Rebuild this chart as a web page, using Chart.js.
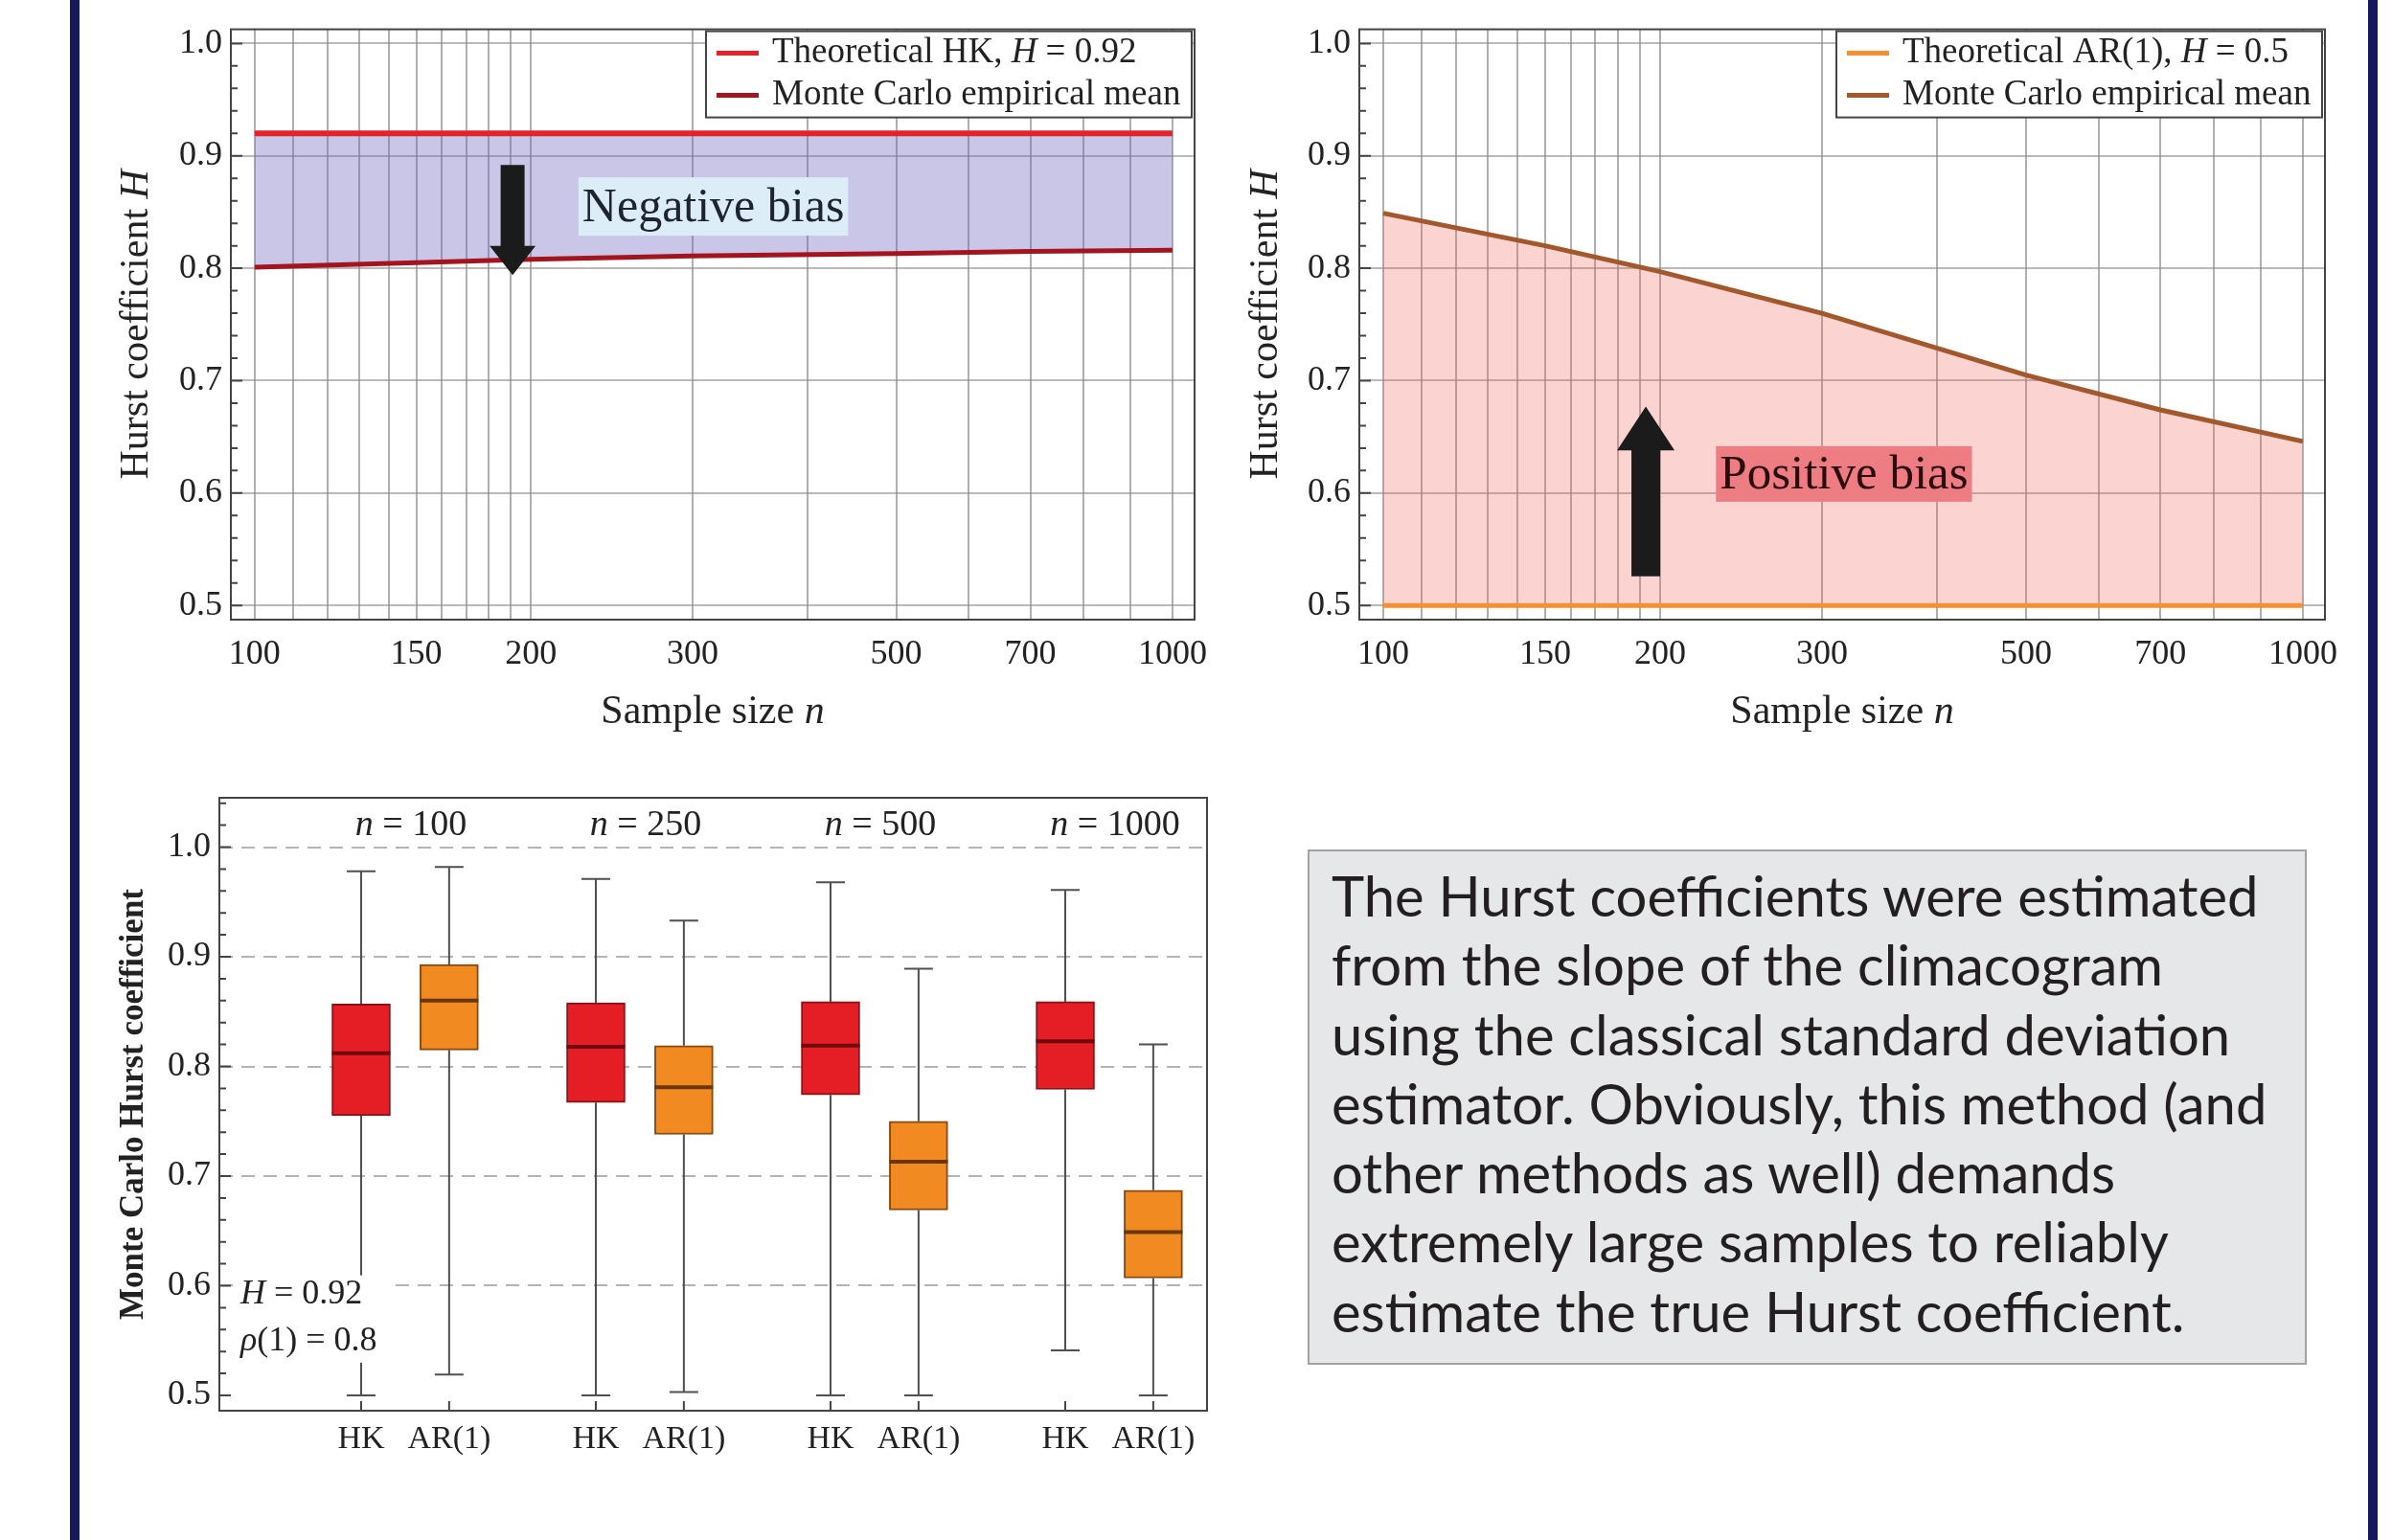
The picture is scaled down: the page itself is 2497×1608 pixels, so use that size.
<!DOCTYPE html>
<html>
<head>
<meta charset="utf-8">
<title>Hurst coefficient bias</title>
<script src="https://cdn.jsdelivr.net/npm/chart.js@4.4.0/dist/chart.umd.min.js"></script>
<style>
  html, body { margin: 0; padding: 0; background: #fff; }
  body { width: 2497px; height: 1608px; position: relative; overflow: hidden; }
  .edge { position: absolute; top: 0; height: 1608px; width: 10px; background: #151a5b; }
  canvas { position: absolute; }
  #note {
    position: absolute; left: 1365px; top: 887px; width: 1043px; height: 538px;
    box-sizing: border-box; background: #e6e7e8; border: 2px solid #a2a2a2;
    font-family: Lato, 'Noto Sans', sans-serif; font-size: 58px; line-height: 72.3px;
    color: #231f20; padding: 10px 0 0 23px; white-space: nowrap;
  }
</style>
</head>
<body>
<div class="edge" style="left:73px"></div>
<div class="edge" style="left:2472px"></div>

<canvas id="hkChart" width="1180" height="800" style="left:100px;top:0"></canvas>
<canvas id="arChart" width="1170" height="800" style="left:1290px;top:0"></canvas>
<canvas id="boxChart" width="1200" height="760" style="left:100px;top:800px"></canvas>

<div id="note">The Hurst coefficients were estimated<br>from the slope of the climacogram<br>using the classical standard deviation<br>estimator. Obviously, this method (and<br>other methods as well) demands<br>extremely large samples to reliably<br>estimate the true Hurst coefficient.</div>

<script>
Chart.defaults.font.family = "'Liberation Serif', 'Times New Roman', serif";
Chart.defaults.color = "#222";

// Sample sizes and the mean estimates
const sampleSizes = [100, 150, 200, 300, 500, 700, 1000];
const hkTheory = [0.92, 0.92, 0.92, 0.92, 0.92, 0.92, 0.92];
const hkMean = [0.801, 0.805, 0.808, 0.811, 0.813, 0.815, 0.816];
const arTheory = [0.5, 0.5, 0.5, 0.5, 0.5, 0.5, 0.5];
const arMean = [0.849, 0.820, 0.797, 0.760, 0.705, 0.674, 0.646];

const xGridValues = [100, 110, 120, 130, 140, 150, 160, 170, 180, 190, 200, 300, 400, 500, 600, 700, 800, 900, 1000];
const xTickLabels = [100, 150, 200, 300, 500, 700, 1000];
const yTickLabels = [0.5, 0.6, 0.7, 0.8, 0.9, 1.0];

// Box plots (Monte Carlo)
const groups = ["n = 100", "n = 250", "n = 500", "n = 1000"];
const seriesNames = ["HK", "AR(1)"];
const hkMin = [0.500, 0.500, 0.500, 0.541];
const hkQ1  = [0.755, 0.767, 0.774, 0.779];
const hkMed = [0.812, 0.818, 0.819, 0.823];
const hkQ3  = [0.857, 0.858, 0.859, 0.859];
const hkMax = [0.978, 0.971, 0.968, 0.961];
const arMin = [0.519, 0.503, 0.500, 0.500];
const arQ1  = [0.815, 0.738, 0.669, 0.607];
const arMed = [0.860, 0.781, 0.713, 0.649];
const arQ3  = [0.893, 0.819, 0.750, 0.687];
const arMax = [0.982, 0.933, 0.889, 0.820];

const SERIF = "'Liberation Serif', 'Times New Roman', serif";

// single letters (H, n) and a leading rho are set in italic
function richParts(text) {
    const parts = [];
    text.split(/( )/).forEach(w => {
        if (w === "") return;
        if (/^[A-Za-z]$/.test(w)) parts.push([w, true]);
        else if (w[0] === "ρ") { parts.push(["ρ", true]); parts.push([w.slice(1), false]); }
        else parts.push([w, false]);
    });
    return parts;
}

function richWidth(ctx, text, size, weight) {
    let total = 0;
    richParts(text).forEach(p => {
        ctx.font = `${p[1] ? "italic " : ""}${weight === "bold" ? "bold " : ""}${size}px ${SERIF}`;
        total += ctx.measureText(p[0]).width;
    });
    return total;
}

function drawRich(ctx, text, x, y, size, align, weight) {
    const parts = richParts(text);
    const fontFor = it => `${it ? "italic " : ""}${weight === "bold" ? "bold " : ""}${size}px ${SERIF}`;
    const total = richWidth(ctx, text, size, weight);
    let cx = align === "center" ? x - total / 2 : align === "right" ? x - total : x;
    ctx.textAlign = "left";
    ctx.textBaseline = "middle";
    parts.forEach(p => {
        ctx.font = fontFor(p[1]);
        ctx.fillText(p[0], cx, y);
        cx += ctx.measureText(p[0]).width;
    });
}

// frame, inner ticks, titles, legend and annotations
function makeDecor(cfg) {
    return {
        id: "decor",
        afterDatasetsDraw(chart) {
            const ctx = chart.ctx, xs = chart.scales.x, ys = chart.scales.y, a = chart.chartArea;
            ctx.save();
            if (cfg.whiskers) {
                cfg.whiskers.forEach((st, i) => {
                    const meta = chart.getDatasetMeta(i);
                    meta.data.forEach((bar, j) => {
                        const x = bar.x, w = bar.width;
                        const d = chart.data.datasets[i].data[j];
                        const yMax = ys.getPixelForValue(st.max[j]);
                        const yMin = ys.getPixelForValue(st.min[j]);
                        const yQ3 = ys.getPixelForValue(d.y[1]);
                        const yQ1 = ys.getPixelForValue(d.y[0]);
                        ctx.strokeStyle = "#505050";
                        ctx.lineWidth = 2;
                        ctx.beginPath();
                        ctx.moveTo(x, yMax); ctx.lineTo(x, yQ3);
                        ctx.moveTo(x, yQ1); ctx.lineTo(x, yMin);
                        ctx.moveTo(x - 15, yMax); ctx.lineTo(x + 15, yMax);
                        ctx.moveTo(x - 15, yMin); ctx.lineTo(x + 15, yMin);
                        ctx.stroke();
                        const yMed = ys.getPixelForValue(st.med[j]);
                        ctx.strokeStyle = st.medColor;
                        ctx.lineWidth = 4;
                        ctx.beginPath();
                        ctx.moveTo(x - w / 2, yMed); ctx.lineTo(x + w / 2, yMed);
                        ctx.stroke();
                    });
                });
            }
            // parameter notes sit on a white patch that breaks the grid and whisker
            if (cfg.notes) {
                let maxW = 0;
                cfg.notes.forEach(n => { maxW = Math.max(maxW, richWidth(ctx, n.text, 36)); });
                const yTop = ys.getPixelForValue(cfg.notes[0].y) - 20;
                const yBot = ys.getPixelForValue(cfg.notes[cfg.notes.length - 1].y) + 22;
                ctx.fillStyle = "#fff";
                ctx.fillRect(a.left + 14, yTop, maxW + 22, yBot - yTop);
                ctx.fillStyle = "#222";
                cfg.notes.forEach(n => drawRich(ctx, n.text, a.left + 22, ys.getPixelForValue(n.y), 36, "left"));
            }
            if (cfg.arrow) {
                const r = cfg.arrow;
                const cx = xs.getPixelForValue(r.n);
                const y0 = ys.getPixelForValue(r.from), yh = ys.getPixelForValue(r.head), y1 = ys.getPixelForValue(r.to);
                ctx.fillStyle = "#1b1b1b";
                ctx.beginPath();
                ctx.moveTo(cx - r.shaft / 2, y0);
                ctx.lineTo(cx + r.shaft / 2, y0);
                ctx.lineTo(cx + r.shaft / 2, yh);
                ctx.lineTo(cx + r.headW / 2, yh);
                ctx.lineTo(cx, y1);
                ctx.lineTo(cx - r.headW / 2, yh);
                ctx.lineTo(cx - r.shaft / 2, yh);
                ctx.closePath();
                ctx.fill();
            }
            if (cfg.tag) {
                const t = cfg.tag;
                ctx.font = `${t.size}px ${SERIF}`;
                const w = ctx.measureText(t.text).width + 8;
                const cx = xs.getPixelForValue(t.n), cy = ys.getPixelForValue(t.y);
                ctx.fillStyle = t.bg;
                ctx.fillRect(cx - w / 2, cy - t.h / 2, w, t.h);
                ctx.fillStyle = t.color;
                ctx.textAlign = "center";
                ctx.textBaseline = "middle";
                ctx.fillText(t.text, cx, cy + 2);
            }
            ctx.restore();
        },
        afterDraw(chart) {
            const ctx = chart.ctx, a = chart.chartArea, xs = chart.scales.x, ys = chart.scales.y;
            ctx.save();
            // frame
            ctx.strokeStyle = "#444";
            ctx.lineWidth = 2;
            ctx.strokeRect(a.left, a.top, a.right - a.left, a.bottom - a.top);
            // inner y ticks, major every 0.1 and minor every 0.02
            ctx.beginPath();
            for (let k = Math.ceil(ys.min * 50); k <= Math.floor(ys.max * 50); k++) {
                const y = ys.getPixelForValue(k / 50);
                const len = k % 5 === 0 ? 12 : 7;
                ctx.moveTo(a.left, y); ctx.lineTo(a.left + len, y);
            }
            // bottom ticks at each box
            if (cfg.baseTicks) {
                xs.ticks.forEach(t => {
                    const x = xs.getPixelForValue(t.value);
                    ctx.moveTo(x, a.bottom); ctx.lineTo(x, a.bottom - 10);
                });
            }
            ctx.stroke();
            ctx.fillStyle = "#222";
            // axis titles
            if (cfg.xTitle) drawRich(ctx, cfg.xTitle, (a.left + a.right) / 2, a.bottom + cfg.xTitleOff, cfg.titleSize, "center");
            if (cfg.yTitle) {
                ctx.save();
                ctx.translate(a.left - cfg.yTitleOff, (a.top + a.bottom) / 2);
                ctx.rotate(-Math.PI / 2);
                drawRich(ctx, cfg.yTitle, 0, 0, cfg.titleSize, "center", cfg.titleWeight);
                ctx.restore();
            }
            // legend in the top right corner
            if (cfg.legend) {
                const bw = 507, bh = 90, bx = a.right - 3 - bw, by = a.top + 2;
                ctx.fillStyle = "#fff";
                ctx.fillRect(bx, by, bw, bh);
                ctx.strokeStyle = "#444";
                ctx.lineWidth = 2;
                ctx.strokeRect(bx, by, bw, bh);
                chart.data.datasets.forEach((ds, i) => {
                    const y = by + 23 + i * 44;
                    ctx.strokeStyle = ds.borderColor;
                    ctx.lineWidth = 5;
                    ctx.beginPath();
                    ctx.moveTo(bx + 11, y); ctx.lineTo(bx + 55, y);
                    ctx.stroke();
                    ctx.fillStyle = "#222";
                    drawRich(ctx, ds.label, bx + 69, y, 37, "left");
                });
            }
            // group headers above the boxes
            if (cfg.groupLabels) {
                cfg.groupLabels.forEach((g, i) => {
                    const x = xs.getPixelForValue(i + cfg.groupMid);
                    drawRich(ctx, g, x + 6, a.top + 29, 38, "center");
                });
            }
            ctx.restore();
        }
    };
}

function logAxis() {
    return {
        type: "logarithmic",
        min: 94.2,
        max: 1057,
        afterBuildTicks: s => { s.ticks = xGridValues.map(v => ({ value: v })); },
        afterFit: s => { s.height = 153; },
        ticks: {
            autoSkip: false, maxRotation: 0, minRotation: 0, padding: 15,
            font: { size: 36 }, color: "#222",
            callback: v => xTickLabels.includes(v) ? String(v) : ""
        },
        grid: { color: "rgba(110,110,110,0.55)", lineWidth: 2, drawTicks: false },
        border: { display: false }
    };
}

function hAxis(width) {
    return {
        type: "linear",
        min: 0.4874,
        max: 1.0126,
        afterBuildTicks: s => { s.ticks = yTickLabels.map(v => ({ value: v })); },
        afterFit: s => { s.width = width; },
        ticks: { padding: 9, font: { size: 36 }, color: "#222", callback: v => v.toFixed(1) },
        grid: { color: "rgba(140,140,140,0.6)", lineWidth: 2, drawTicks: false },
        border: { display: false }
    };
}

const pairs = ys => sampleSizes.map((n, i) => ({ x: n, y: ys[i] }));

// Top left: HK process
new Chart(document.getElementById("hkChart"), {
    type: "line",
    data: {
        datasets: [{
            label: "Theoretical HK, H = 0.92",
            data: pairs(hkTheory),
            borderColor: "#e2232e",
            borderWidth: 6,
            pointRadius: 0,
            fill: false
        }, {
            label: "Monte Carlo empirical mean",
            data: pairs(hkMean),
            borderColor: "#a3141f",
            borderWidth: 5,
            pointRadius: 0,
            fill: "-1",
            backgroundColor: "rgba(110,100,190,0.37)"
        }]
    },
    options: {
        responsive: false,
        animation: false,
        layout: { padding: { top: 24, right: 33, left: 0, bottom: 0 } },
        scales: { x: logAxis(), y: hAxis(141) },
        plugins: { legend: { display: false }, tooltip: { enabled: false } }
    },
    plugins: [makeDecor({
        yTitle: "Hurst coefficient H", yTitleOff: 98,
        xTitle: "Sample size n", xTitleOff: 97,
        titleSize: 42, legend: true,
        arrow: { n: 191, from: 0.892, head: 0.820, to: 0.794, shaft: 25, headW: 48 },
        tag: { text: "Negative bias", n: 316, y: 0.855, size: 50, h: 61, bg: "#dcedf7", color: "#1d2330" }
    })]
});

// Top right: AR(1) process
new Chart(document.getElementById("arChart"), {
    type: "line",
    data: {
        datasets: [{
            label: "Theoretical AR(1), H = 0.5",
            data: pairs(arTheory),
            borderColor: "#f59134",
            borderWidth: 5,
            pointRadius: 0,
            fill: false
        }, {
            label: "Monte Carlo empirical mean",
            data: pairs(arMean),
            borderColor: "#a2582c",
            borderWidth: 5,
            pointRadius: 0,
            fill: "-1",
            backgroundColor: "rgba(240,100,95,0.28)"
        }]
    },
    options: {
        responsive: false,
        animation: false,
        layout: { padding: { top: 24, right: 33, left: 0, bottom: 0 } },
        scales: { x: logAxis(), y: hAxis(129) },
        plugins: { legend: { display: false }, tooltip: { enabled: false } }
    },
    plugins: [makeDecor({
        yTitle: "Hurst coefficient H", yTitleOff: 97,
        xTitle: "Sample size n", xTitleOff: 97,
        titleSize: 42, legend: true,
        arrow: { n: 193, from: 0.526, head: 0.638, to: 0.677, shaft: 30, headW: 60 },
        tag: { text: "Positive bias", n: 317, y: 0.617, size: 51, h: 58, bg: "#ee7c83", color: "#2a0c0c" }
    })]
});

// Bottom left: box plots, AR(1) box sits a bit to the right of HK in each group
const boxOffset = 0.375;
const hkPos = groups.map((g, i) => i);
const arPos = groups.map((g, i) => i + boxOffset);
const boxPositions = [];
groups.forEach((g, i) => { boxPositions.push(hkPos[i], arPos[i]); });

new Chart(document.getElementById("boxChart"), {
    type: "bar",
    data: {
        datasets: [{
            label: "HK",
            data: hkQ1.map((q, i) => ({ x: hkPos[i], y: [q, hkQ3[i]] })),
            backgroundColor: "#e51e25",
            borderColor: "#8c1016",
            borderWidth: 2,
            borderSkipped: false,
            barThickness: 61,
            grouped: false
        }, {
            label: "AR(1)",
            data: arQ1.map((q, i) => ({ x: arPos[i], y: [q, arQ3[i]] })),
            backgroundColor: "#f18a21",
            borderColor: "#8a4a12",
            borderWidth: 2,
            borderSkipped: false,
            barThickness: 61,
            grouped: false
        }]
    },
    options: {
        responsive: false,
        animation: false,
        layout: { padding: { top: 33, right: 40, left: 0, bottom: 0 } },
        scales: {
            x: {
                type: "linear",
                offset: false,
                min: -0.604,
                max: 3.604,
                afterBuildTicks: s => { s.ticks = boxPositions.map(v => ({ value: v })); },
                afterFit: s => { s.height = 87; },
                ticks: {
                    autoSkip: false, maxRotation: 0, padding: 10,
                    font: { size: 34 }, color: "#222",
                    callback: (v, i) => seriesNames[i % 2]
                },
                grid: { display: false, drawTicks: false },
                border: { display: false }
            },
            y: {
                type: "linear",
                min: 0.486,
                max: 1.045,
                afterBuildTicks: s => { s.ticks = yTickLabels.map(v => ({ value: v })); },
                afterFit: s => { s.width = 129; },
                ticks: { padding: 9, font: { size: 36 }, color: "#222", callback: v => v.toFixed(1) },
                grid: {
                    color: c => c.tick && c.tick.value > 0.55 ? "#b4b4b4" : "rgba(0,0,0,0)",
                    lineWidth: 2,
                    drawTicks: false
                },
                border: { display: false, dash: [14, 9] }
            }
        },
        plugins: { legend: { display: false }, tooltip: { enabled: false } }
    },
    plugins: [makeDecor({
        yTitle: "Monte Carlo Hurst coefficient", yTitleOff: 89,
        titleSize: 35, titleWeight: "bold",
        baseTicks: true,
        groupLabels: groups, groupMid: boxOffset / 2,
        whiskers: [
            { min: hkMin, med: hkMed, max: hkMax, medColor: "#6e0a0e" },
            { min: arMin, med: arMed, max: arMax, medColor: "#6a360c" }
        ],
        notes: [{ text: "H = 0.92", y: 0.592 }, { text: "ρ(1) = 0.8", y: 0.549 }]
    })]
});
</script>
</body>
</html>
